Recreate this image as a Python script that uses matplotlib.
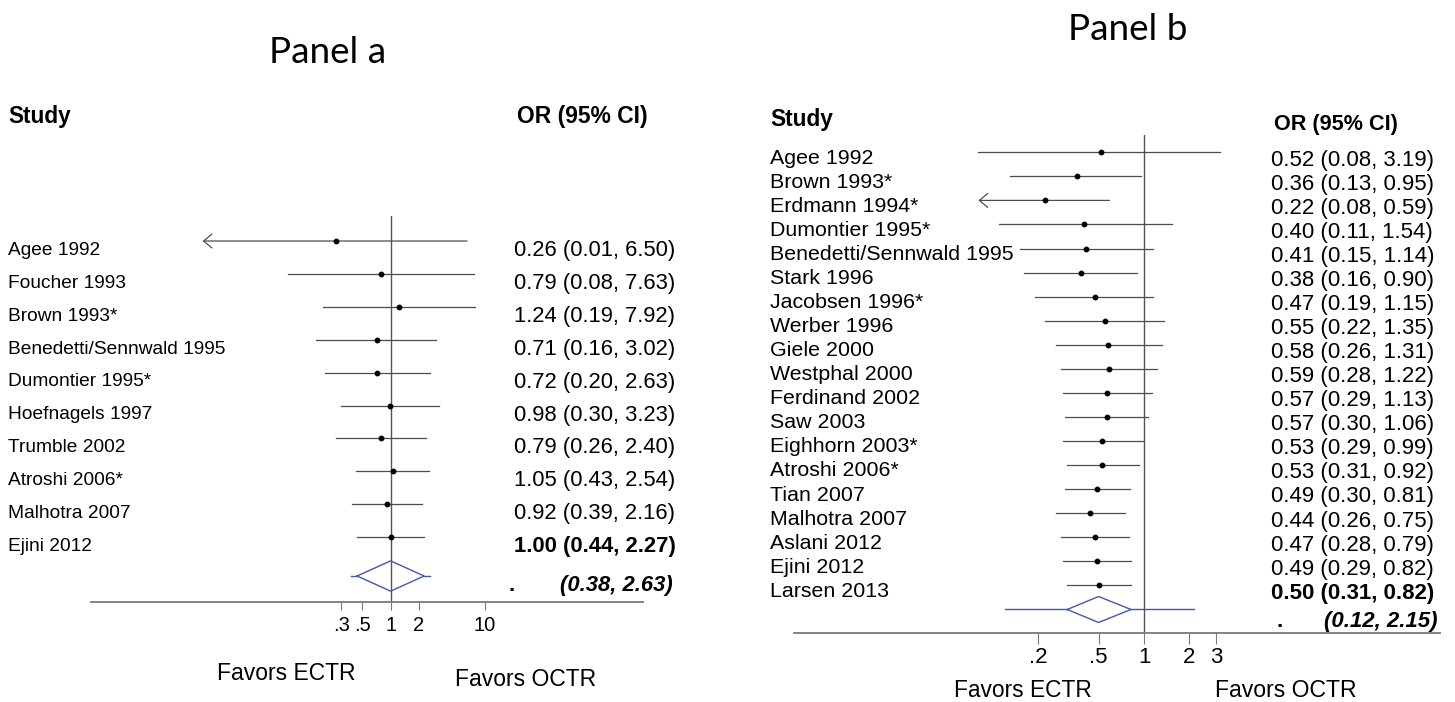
import matplotlib
matplotlib.use("Agg")
import matplotlib.pyplot as plt
from matplotlib import transforms
from matplotlib.ticker import NullLocator

plt.rcParams['font.family'] = ['Liberation Sans', 'DejaVu Sans']

# ---- Panel a data ----
studies_a = ['Agee 1992', 'Foucher 1993', 'Brown 1993*', 'Benedetti/Sennwald 1995',
             'Dumontier 1995*', 'Hoefnagels 1997', 'Trumble 2002', 'Atroshi 2006*',
             'Malhotra 2007', 'Ejini 2012']
or_a = [0.26, 0.79, 1.24, 0.71, 0.72, 0.98, 0.79, 1.05, 0.92, 1.00]
lo_a = [0.01, 0.08, 0.19, 0.16, 0.20, 0.30, 0.26, 0.43, 0.39, 0.44]
hi_a = [6.50, 7.63, 7.92, 3.02, 2.63, 3.23, 2.40, 2.54, 2.16, 2.27]
pooled_a = [1.00, 0.44, 2.27]
pred_a = [0.38, 2.63]
arrows_a = ['Agee 1992']
ticks_a = [0.3, 0.5, 1, 2, 10]
ticklabels_a = ['.3', '.5', '1', '2', '10']

# ---- Panel b data ----
studies_b = ['Agee 1992', 'Brown 1993*', 'Erdmann 1994*', 'Dumontier 1995*',
             'Benedetti/Sennwald 1995', 'Stark 1996', 'Jacobsen 1996*', 'Werber 1996',
             'Giele 2000', 'Westphal 2000', 'Ferdinand 2002', 'Saw 2003',
             'Eighhorn 2003*', 'Atroshi 2006*', 'Tian 2007', 'Malhotra 2007',
             'Aslani 2012', 'Ejini 2012', 'Larsen 2013']
or_b = [0.52, 0.36, 0.22, 0.40, 0.41, 0.38, 0.47, 0.55, 0.58, 0.59,
        0.57, 0.57, 0.53, 0.53, 0.49, 0.44, 0.47, 0.49, 0.50]
lo_b = [0.08, 0.13, 0.08, 0.11, 0.15, 0.16, 0.19, 0.22, 0.26, 0.28,
        0.29, 0.30, 0.29, 0.31, 0.30, 0.26, 0.28, 0.29, 0.31]
hi_b = [3.19, 0.95, 0.59, 1.54, 1.14, 0.90, 1.15, 1.35, 1.31, 1.22,
        1.13, 1.06, 0.99, 0.92, 0.81, 0.75, 0.79, 0.82, 0.82]
pooled_b = [0.50, 0.31, 0.82]
pred_b = [0.12, 2.15]
arrows_b = ['Erdmann 1994*']
ticks_b = [0.2, 0.5, 1, 2, 3]
ticklabels_b = ['.2', '.5', '1', '2', '3']

W, H = 1455, 702
fig = plt.figure(figsize=(W / 100, H / 100), dpi=100)

LINE = '#4d4d4d'
BLUE = '#4656a8'
AXC = '#7a7a7a'


def fx(px):
    return px / W


def fy(py):
    return 1 - py / H


def forest(rect_px, xlim, ylim, studies, ors, los, his, pooled, pred, arrows,
           ticks, ticklabels, cfg):
    l, t, r, b = rect_px
    ax = fig.add_axes([fx(l), fy(b), (r - l) / W, (b - t) / H])
    ax.set_xscale('log')
    ax.set_xlim(*xlim)
    ax.set_ylim(*ylim)
    for s in ['top', 'left', 'right']:
        ax.spines[s].set_visible(False)
    ax.spines['bottom'].set_color(AXC)
    ax.spines['bottom'].set_linewidth(1.3)
    ax.set_yticks([])
    ax.set_xticks(ticks)
    ax.set_xticklabels(ticklabels)
    ax.xaxis.set_minor_locator(NullLocator())
    ax.tick_params(axis='x', direction='out', length=cfg['ticklen'], width=0.8,
                   color=AXC, labelsize=cfg['ticksize'], pad=cfg['tickpad'])
    ax.patch.set_alpha(0)

    ax.axvline(1, color='#555555', lw=1.0, zorder=1)
    tr = transforms.blended_transform_factory(fig.transFigure, ax.transData)

    n = len(studies)
    for i, (name, o, lo, hi) in enumerate(zip(studies, ors, los, his)):
        if name in arrows:
            ax.annotate('', xy=(lo, i), xytext=(hi, i),
                        arrowprops=dict(arrowstyle='->,head_length=0.6,head_width=0.5',
                                        color=LINE, lw=0.9, shrinkA=0, shrinkB=0))
        else:
            ax.plot([lo, hi], [i, i], color=LINE, lw=0.9, zorder=2)
        ax.plot([o], [i], 'o', color='black', ms=3.2, zorder=3)
        ax.text(fx(cfg['label_x']), i + cfg['label_dy'], name, transform=tr,
                fontsize=cfg['labelsize'], va='baseline', ha='left')
        bold = (i == n - 1)
        ax.text(fx(cfg['val_x']), i + cfg['val_dy'], f'{o:.2f} ({lo:.2f}, {hi:.2f})',
                transform=tr, fontsize=cfg['valsize'], va='baseline', ha='left',
                fontweight='bold' if bold else 'normal')

    # pooled diamond + prediction interval
    y = n - 1 + cfg['pool_dy']
    est, plo, phi = pooled
    h = cfg['dh']
    ax.plot([plo, est, phi, est, plo], [y, y - h, y, y + h, y], color=BLUE, lw=1.0, zorder=4)
    ax.plot([pred[0], plo], [y, y], color=BLUE, lw=1.0)
    ax.plot([phi, pred[1]], [y, y], color=BLUE, lw=1.0)
    ax.text(fx(cfg['dot_x']), y + cfg['pred_dy'], '.', transform=tr,
            fontsize=cfg['valsize'], fontweight='bold', va='baseline', ha='left')
    ax.text(fx(cfg['pred_x']), y + cfg['pred_dy'], f'({pred[0]:.2f}, {pred[1]:.2f})',
            transform=tr, fontsize=cfg['valsize'], fontweight='bold', style='italic',
            va='baseline', ha='right')
    return ax


# Panel a
forest((90.7, 216, 643, 602), (10 ** -3.19, 10 ** 2.684), (10.97, -0.76),
       studies_a, or_a, lo_a, hi_a, pooled_a, pred_a, arrows_a, ticks_a, ticklabels_a,
       dict(ticklen=5.8, ticksize=14.5, tickpad=4.3, label_x=8, label_dy=0.42,
            labelsize=13.8, val_x=514, val_dy=0.456, valsize=15.8, pool_dy=1.18,
            dh=0.46, dot_x=509, pred_x=673, pred_dy=0.45))

# Panel b
forest((794, 135, 1440, 633.3), (10 ** -2.318, 10 ** 1.96), (20.0, -0.72),
       studies_b, or_b, lo_b, hi_b, pooled_b, pred_b, arrows_b, ticks_b, ticklabels_b,
       dict(ticklen=7.9, ticksize=16, tickpad=2.2, label_x=770, label_dy=0.48,
            labelsize=15.4, val_x=1271, val_dy=0.56, valsize=16, pool_dy=1.01,
            dh=0.54, dot_x=1276, pred_x=1438, pred_dy=0.72))

# titles and headers
fig.text(fx(328), fy(63.3), 'Panel a', family=['Lato', 'DejaVu Sans'], fontsize=26.6,
         ha='center', va='baseline')
fig.text(fx(1128), fy(40), 'Panel b', family=['Lato', 'DejaVu Sans'], fontsize=26.6,
         ha='center', va='baseline')
fig.text(fx(8), fy(122.7), 'Study', fontsize=16.3, fontweight='bold', va='baseline')
fig.text(fx(517), fy(122.7), 'OR (95% CI)', fontsize=16.5, fontweight='bold', va='baseline')
fig.text(fx(770), fy(125.7), 'Study', fontsize=16.4, fontweight='bold', va='baseline')
fig.text(fx(1274), fy(130), 'OR (95% CI)', fontsize=15.6, fontweight='bold', va='baseline')

# favors labels
fig.text(fx(286), fy(680), 'Favors ECTR', fontsize=16.5, ha='center', va='baseline')
fig.text(fx(526), fy(686), 'Favors OCTR', fontsize=16.5, ha='center', va='baseline')
fig.text(fx(1023), fy(697), 'Favors ECTR', fontsize=16.4, ha='center', va='baseline')
fig.text(fx(1286), fy(697), 'Favors OCTR', fontsize=16.6, ha='center', va='baseline')

fig.savefig('out.png', dpi=100)
